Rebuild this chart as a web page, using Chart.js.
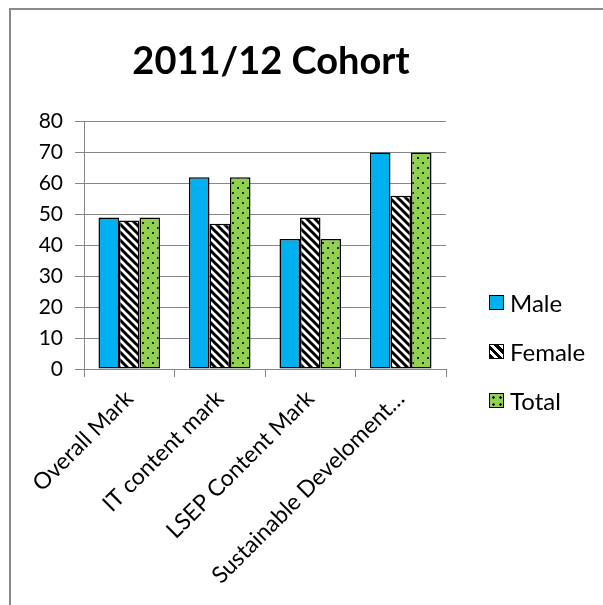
<!DOCTYPE html>
<html lang="en">
<head>
<meta charset="UTF-8" />
<title>2011/12 Cohort</title>
<script src="https://cdn.jsdelivr.net/npm/chart.js@4"></script>
<style>
  body { margin: 0; background: #fff; overflow: hidden; font-family: Lato, "Open Sans", sans-serif; }
  #grafico { position: absolute; left: 0; top: 0; }
  #marco { position: absolute; left: 9px; top: 8px; width: 700px; height: 700px;
           border-left: 2px solid #8a8a8a; border-top: 2px solid #8a8a8a; pointer-events: none; }
  #leyenda { position: absolute; left: 489px; top: 278px; font-size: 24px; color: #000; }
  .item { height: 49px; display: flex; align-items: center; }
  .caja { width: 13px; height: 13px; border: 1px solid #000; margin-right: 6px; }
</style>
</head>
<body>
<canvas id="grafico" width="542" height="605"></canvas>
<div id="marco"></div>
<div id="leyenda">
  <div class="item"><span class="caja" style="background:#00B0F0"></span>Male</div>
  <div class="item"><span class="caja" style="background:repeating-linear-gradient(45deg,#000 0 3px,#fff 3px 6px)"></span>Female</div>
  <div class="item"><span class="caja" style="background:radial-gradient(circle,#000 1px,transparent 1.5px) 0 0/7px 7px,#92D050"></span>Total</div>
</div>
<script>
const categorias = ['Overall Mark', 'IT content mark', 'LSEP Content Mark', 'Sustainable Develoment…'];
const male = [49, 62, 42, 70];
const female = [48, 47, 49, 56];
const total = [49, 62, 42, 70];
const ticksY = { min: 0, max: 80, step: 10 };

const ctx = document.getElementById('grafico').getContext('2d');

// rayas diagonales negras (Female)
function rayas() {
  const c = document.createElement('canvas');
  c.width = 8; c.height = 8;
  const g = c.getContext('2d');
  g.fillStyle = '#fff'; g.fillRect(0, 0, 8, 8);
  g.strokeStyle = '#000'; g.lineWidth = 3;
  g.beginPath();
  g.moveTo(-2, -2); g.lineTo(10, 10);
  g.moveTo(-2, 6); g.lineTo(2, 10);
  g.moveTo(6, -2); g.lineTo(10, 2);
  g.stroke();
  return ctx.createPattern(c, 'repeat');
}

// verde con puntos (Total)
function puntos() {
  const c = document.createElement('canvas');
  c.width = 10; c.height = 10;
  const g = c.getContext('2d');
  g.fillStyle = '#92D050'; g.fillRect(0, 0, 10, 10);
  g.fillStyle = '#1a2a10';
  g.fillRect(2, 2, 2, 2);
  g.fillRect(7, 7, 2, 2);
  return ctx.createPattern(c, 'repeat');
}

const gris = '#868686';
const barra = { borderColor: '#000', borderWidth: 1.5, borderSkipped: false,
                categoryPercentage: 0.68, barPercentage: 1 };

new Chart(ctx, {
  type: 'bar',
  data: {
    labels: categorias,
    datasets: [
      { label: 'Male', data: male, backgroundColor: '#00B0F0', ...barra },
      { label: 'Female', data: female, backgroundColor: rayas(), ...barra },
      { label: 'Total', data: total, backgroundColor: puntos(), ...barra }
    ]
  },
  options: {
    responsive: false,
    animation: false,
    layout: { padding: 0 },
    plugins: {
      legend: { display: false },
      tooltip: { enabled: false },
      title: {
        display: true, text: '2011/12 Cohort', color: '#000',
        font: { family: 'Lato', size: 38, weight: 'bold', lineHeight: 1.2 },
        padding: { top: 39, bottom: 37 }
      }
    },
    scales: {
      x: {
        afterFit: s => { s.height = 236; },
        grid: { drawOnChartArea: false, color: gris, tickLength: 8, offset: true },
        border: { color: gris },
        ticks: { color: '#000', font: { family: 'Lato', size: 23 }, minRotation: 45, maxRotation: 45, padding: 8 }
      },
      y: {
        min: ticksY.min, max: ticksY.max,
        afterFit: s => { s.width = 84; },
        grid: { color: gris, tickLength: 9 },
        border: { color: gris },
        ticks: { stepSize: ticksY.step, color: '#000', font: { family: 'Lato', size: 21 }, padding: 12 }
      },
      // eje vacío a la derecha: deja sitio para la leyenda
      hueco: {
        position: 'right', min: 0, max: 80,
        afterFit: s => { s.width = 96; },
        grid: { display: false }, border: { display: false }, ticks: { display: false }
      }
    }
  }
});
</script>
</body>
</html>
